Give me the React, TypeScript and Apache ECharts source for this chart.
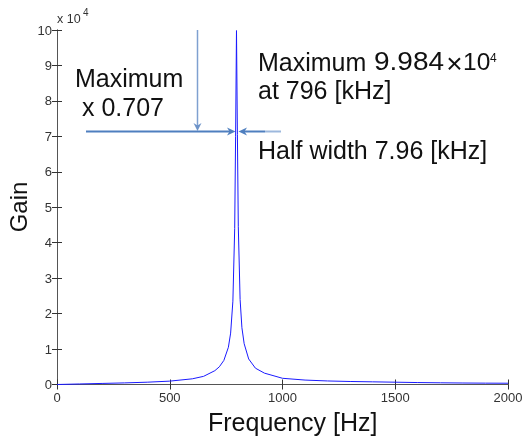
import React, { useEffect, useRef } from "react";
import * as echarts from "echarts";

// Frequency [Hz] and gain values
const frequencies = [0, 100, 200, 300, 400, 500, 600, 650, 700, 720, 740, 760, 770, 780, 788, 792, 796, 800, 804, 812, 820, 830, 850, 880, 920, 1000, 1100, 1200, 1300, 1400, 1500, 1600, 1700, 1800, 1900, 2000];
const gains = [0, 150, 300, 450, 650, 950, 1600, 2300, 3900, 5000, 6800, 10500, 14500, 23500, 44000, 70000, 99840, 70500, 44500, 24000, 16000, 11500, 7200, 4600, 3200, 1750, 1250, 1000, 850, 750, 650, 550, 480, 420, 380, 360];
const xTicks = [0, 500, 1000, 1500, 2000];
const yTicks = [0, 1, 2, 3, 4, 5, 6, 7, 8, 9, 10];
const yScale = 10000;

const FONT = "Liberation Sans";
const ARROW = "#4f7fbf";

export default function App() {
  const ref = useRef<HTMLDivElement>(null);
  useEffect(() => {
    const chart = echarts.init(ref.current!, null, { renderer: "svg" });
    const data = frequencies.map((f, i) => [f, gains[i]]);
    const xMin = xTicks[0];
    const xMax = xTicks[xTicks.length - 1];
    const xInt = xTicks[1] - xTicks[0];
    const yMin = yTicks[0] * yScale;
    const yMax = yTicks[yTicks.length - 1] * yScale;
    const yInt = (yTicks[1] - yTicks[0]) * yScale;
    const axisLine = { show: true, lineStyle: { color: "#555", width: 1 } };
    const tick = { show: true, inside: true, length: 5, lineStyle: { color: "#333" } };
    const big = (text: string, x: number, y: number, size = 25, scaleX = 1) => ({
      type: "text", x, y, scaleX, style: { text, fontFamily: FONT, fontSize: size, fill: "#111", verticalAlign: "middle" },
    });
    chart.setOption({
      animation: false,
      grid: { left: 57, right: 16, top: 30, bottom: 53.5, containLabel: false, outerBoundsMode: "none" },
      xAxis: [
        {
          type: "value", min: xMin, max: xMax, interval: xInt, position: "bottom",
          axisLine, axisTick: tick, splitLine: { show: false },
          axisLabel: { show: true, color: "#333", fontFamily: FONT, fontSize: 13, margin: 6, showMinLabel: true, showMaxLabel: true, formatter: (v: number) => String(v) },
        },
        {
          type: "value", min: xMin, max: xMax, interval: xInt, position: "top",
          axisLine, axisTick: tick, splitLine: { show: false }, axisLabel: { show: false },
        },
      ],
      yAxis: [
        {
          type: "value", min: yMin, max: yMax, interval: yInt, position: "left",
          axisLine, axisTick: tick, splitLine: { show: false },
          axisLabel: { show: true, color: "#333", fontFamily: FONT, fontSize: 13, margin: 5, formatter: (v: number) => String(v / yScale), showMinLabel: true, showMaxLabel: true },
        },
        {
          type: "value", min: yMin, max: yMax, interval: yInt, position: "right",
          axisLine, axisTick: tick, splitLine: { show: false }, axisLabel: { show: false },
        },
      ],
      series: [
        {
          type: "line", data, showSymbol: false, symbol: "none",
          lineStyle: { color: "#1a1aff", width: 1 }, clip: true,
        },
      ],
      graphic: [
        // exponent label
        { type: "text", x: 57, y: 19, style: { text: "x 10", fontFamily: FONT, fontSize: 12.5, fill: "#333", verticalAlign: "middle" } },
        { type: "text", x: 83, y: 12, style: { text: "4", fontFamily: FONT, fontSize: 10, fill: "#333", verticalAlign: "middle" } },
        // axis names
        big("Frequency [Hz]", 208, 421.5),
        { type: "text", x: 18.5, y: 207, rotation: Math.PI / 2, style: { text: "Gain", fontFamily: FONT, fontSize: 24, fill: "#111", align: "center", verticalAlign: "middle" } },
        // annotations
        big("Maximum", 75, 78),
        big("x 0.707", 82, 106.5),
        big("Maximum", 258, 61.5),
        big("9.984", 374, 61.5, 25, 1.12),
        { type: "text", x: 454.5, y: 63, style: { text: "×", fontFamily: FONT, fontSize: 28, fill: "#111", align: "center", verticalAlign: "middle" } },
        big("10", 463, 61.5, 24.5),
        { type: "text", x: 490, y: 57.5, style: { text: "4", fontFamily: FONT, fontSize: 12, fill: "#111", verticalAlign: "middle" } },
        big("at 796 [kHz]", 258, 90),
        big("Half width 7.96 [kHz]", 258, 150),
        // arrows
        { type: "line", shape: { x1: 197.5, y1: 30, x2: 197.5, y2: 126 }, style: { stroke: "#7fa0d0", lineWidth: 1.5 } },
        { type: "polygon", shape: { points: [[197.5, 131], [193.5, 123], [197.5, 125.5], [201.5, 123]] }, style: { fill: "#6d93c8" } },
        { type: "line", shape: { x1: 86, y1: 131.5, x2: 231, y2: 131.5 }, style: { stroke: ARROW, lineWidth: 2 } },
        { type: "polygon", shape: { points: [[235.5, 131.5], [227, 127.5], [229.5, 131.5], [227, 135.5]] }, style: { fill: ARROW } },
        { type: "line", shape: { x1: 243, y1: 131.5, x2: 265, y2: 131.5 }, style: { stroke: ARROW, lineWidth: 2 } },
        { type: "line", shape: { x1: 265, y1: 131.5, x2: 281, y2: 131.5 }, style: { stroke: "#9db8dd", lineWidth: 2 } },
        { type: "polygon", shape: { points: [[238.5, 131.5], [247, 127.5], [244.5, 131.5], [247, 135.5]] }, style: { fill: ARROW } },
      ],
    });
    return () => chart.dispose();
  }, []);
  return <div ref={ref} style={{ position: "fixed", left: 0, top: 0, width: 524, height: 438 }} />;
}
